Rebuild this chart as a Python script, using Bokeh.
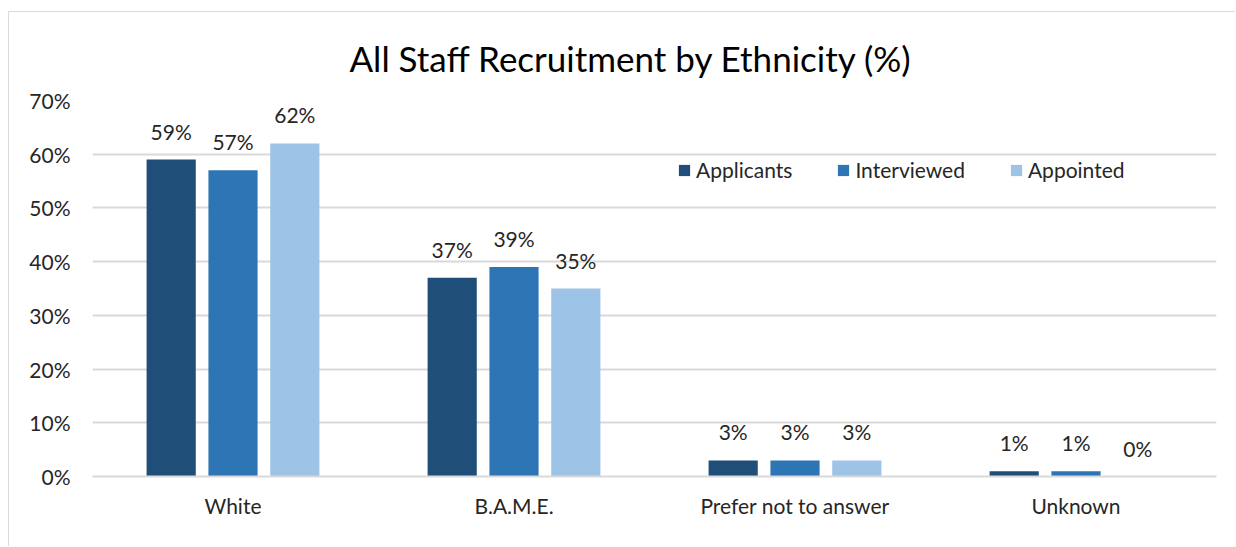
from bokeh.plotting import figure
from bokeh.models import ColumnDataSource, FactorRange, Range1d, Legend, LegendItem, PrintfTickFormatter, FixedTicker
from bokeh.transform import dodge
from bokeh.embed import file_html
from bokeh.resources import INLINE
from bokeh.core.properties import value

categories = ["White", "B.A.M.E.", "Prefer not to answer", "Unknown"]
series_names = ["Applicants", "Interviewed", "Appointed"]
applicants = [59, 37, 3, 1]
interviewed = [57, 39, 3, 1]
appointed = [62, 35, 3, 0]
y_ticks = [0, 10, 20, 30, 40, 50, 60, 70]

colors = ["#1F4E79", "#2E75B6", "#9DC3E6"]
FONT = "Lato"
FS = "21px"

src = ColumnDataSource(dict(
    cat=categories,
    Applicants=applicants,
    Interviewed=interviewed,
    Appointed=appointed,
    lab_a=[f"{v}%" for v in applicants],
    lab_i=[f"{v}%" for v in interviewed],
    lab_p=[f"{v}%" for v in appointed],
))

p = figure(x_range=FactorRange(*categories, range_padding=0), y_range=Range1d(0, 70),
           width=1227, height=535, output_backend="svg", toolbar_location=None,
           min_border_left=83, min_border_right=20, min_border_top=88, min_border_bottom=71)
p.styles = {"margin-left": "8px", "margin-top": "11px",
            "border-left": "1px solid #d9d9d9", "border-top": "1px solid #d9d9d9"}
p.outline_line_color = None
p.background_fill_color = "white"
p.border_fill_color = "white"

p.title.text = "All Staff Recruitment by Ethnicity (%)"
p.title.align = "left"
p.title.offset = 257
p.title.standoff = 44
p.title.text_font = FONT
p.title.text_font_size = "35px"
p.title.text_font_style = "normal"
p.title.text_color = "#000000"

offsets = [-0.22, 0.0, 0.22]
labels = ["lab_a", "lab_i", "lab_p"]
items = []
for name, off, col, lab in zip(series_names, offsets, colors, labels):
    r = p.vbar(x=dodge("cat", off, range=p.x_range), top=name, width=0.175, source=src,
               fill_color=col, line_color=None)
    items.append(LegendItem(label=name, renderers=[r]))
    p.text(x=dodge("cat", off, range=p.x_range), y=name, text=lab, source=src,
           text_align="center", text_baseline="bottom", y_offset=-16,
           text_font=value(FONT), text_font_size=FS, text_color="#262626")

legend = Legend(items=items, orientation="horizontal", location=(585, 294),
                glyph_width=14, glyph_height=14, label_text_font=FONT,
                label_text_font_size=FS, label_text_color="#262626",
                spacing=44, label_standoff=5, padding=0, margin=0,
                border_line_color=None, background_fill_alpha=0)
p.add_layout(legend, "center")

p.yaxis.ticker = FixedTicker(ticks=y_ticks)
p.yaxis.formatter = PrintfTickFormatter(format="%d%%")
p.yaxis.axis_line_color = None
p.yaxis.major_tick_line_color = None
p.yaxis.minor_tick_line_color = None
p.yaxis.major_label_text_font = FONT
p.yaxis.major_label_text_font_size = FS
p.yaxis.major_label_text_color = "#262626"
p.yaxis.major_label_standoff = 16

p.xaxis.axis_line_color = "#d9d9d9"
p.xaxis.axis_line_width = 2
p.xaxis.major_tick_line_color = None
p.xaxis.minor_tick_line_color = None
p.xaxis.major_label_text_font = FONT
p.xaxis.major_label_text_font_size = FS
p.xaxis.major_label_text_color = "#262626"
p.xaxis.major_label_standoff = 10

p.xgrid.grid_line_color = None
p.ygrid.grid_line_color = "#d9d9d9"
p.ygrid.grid_line_width = 2

open("out.html", "w").write(file_html(p, INLINE))
